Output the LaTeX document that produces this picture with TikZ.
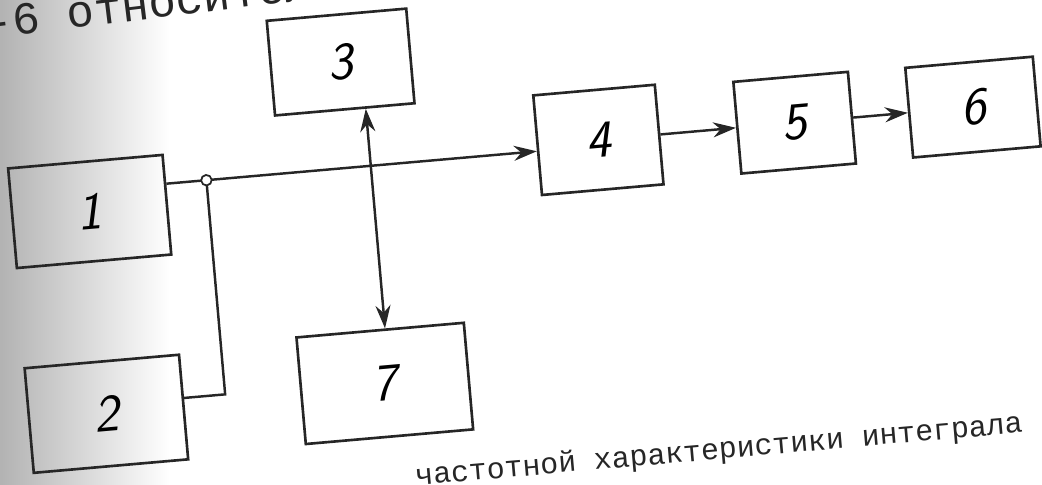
\documentclass[tikz,border=0pt]{standalone}
\usepackage{fontspec}
\newfontfamily\typefont{Liberation Mono}
\usetikzlibrary{arrows.meta}

\begin{document}
\begin{tikzpicture}[x=0.02cm,y=-0.02cm,
        blk/.style={draw=black!85,line width=1.5pt,inner sep=0pt,
            font=\fontsize{30}{30}\selectfont\sffamily\slshape},
        wire/.style={draw=black!85,line width=1.4pt},
        arr/.style={wire,-{Stealth[length=4.6mm,width=3mm]}},
        jdot/.style={circle,draw=black!85,line width=1pt,fill=white,inner sep=0pt,minimum size=6pt},
        page/.style={anchor=base west,text=black!85}]
        \path[use as bounding box,clip] (0,0) rectangle (1042,484);
        \shade[left color=black!30,right color=white] (0,0) rectangle (170,484);

        % typed text of the page
        \node[page,rotate=7,font=\typefont\fontsize{26}{26}\selectfont] (toptext) at (-46,43) {1-6 относительно};
        \node[page,rotate=5,font=\typefont\fontsize{17}{17}\selectfont] (bottext) at (410,486) {частотной характеристики интеграла};

        \begin{scope}[rotate around={5:(521,242)},transform shape]
            \node[blk,minimum width=3.1cm,minimum height=2cm] (b1) at (94,174) {1};
            \node[blk,minimum width=3.1cm,minimum height=2.1cm] (b2) at (93,377) {2};
            \node[blk,minimum width=2.8cm,minimum height=1.9cm] (b3) at (357,47) {3};
            \node[blk,minimum width=2.44cm,minimum height=2cm] (b4) at (607,147) {4};
            \node[blk,minimum width=2.3cm,minimum height=1.84cm] (b5) at (804,147) {5};
            \node[blk,minimum width=2.56cm,minimum height=1.8cm] (b6) at (983,147) {6};
            \node[blk,minimum width=3.36cm,minimum height=2.14cm] (b7) at (373,371) {7};

            \coordinate (j1) at (213,153);
            \coordinate (j2) at (378,153);
            \coordinate (c2) at (213,368);

            \draw[arr] (b1.east |- j1) -- (j1) -- (j2) -- (j2 -| b4.west);
            \draw[wire] (b2.east |- c2) -- (c2) -- (j1);
            \draw[arr] (j2) -- (j2 |- b3.south);
            \draw[arr] (j2) -- (j2 |- b7.north);
            \draw[arr] (b4.east) -- (b5.west);
            \draw[arr] (b5.east) -- (b6.west);
            \node[jdot] (dot) at (j1) {};
        \end{scope}
\end{tikzpicture}
\end{document}
